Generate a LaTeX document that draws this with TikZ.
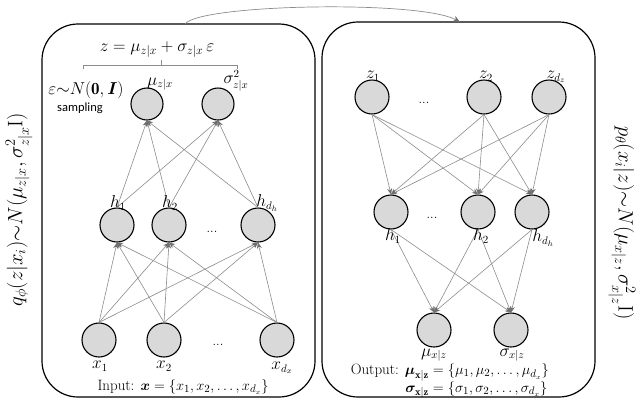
\documentclass[tikz,border=0pt]{standalone}
\usepackage{amsmath}
\usepackage{bm}
\usepackage{fontspec}
\newfontfamily\sampfont{Carlito}
\usetikzlibrary{arrows.meta}
\definecolor{nodefill}{RGB}{217,217,217}
\definecolor{edgegray}{RGB}{140,140,140}
\definecolor{tipgray}{RGB}{110,110,110}
\begin{document}
\begin{tikzpicture}[x=1pt,y=-1pt,
  neuron/.style={circle,draw=black,line width=1.1pt,fill=nodefill,minimum size=34pt,inner sep=0pt},
  conn/.style={draw=edgegray,line width=0.6pt,-{Stealth[length=6pt,width=5pt,color=tipgray]}},
  lbl/.style={font=\fontsize{16}{16}\selectfont,inner sep=0pt},
  dots/.style={font=\fontsize{13}{13}\selectfont,inner sep=0pt},
  box/.style={draw=black,line width=1.2pt,rounded corners=36pt,inner sep=0pt},
  side/.style={font=\fontsize{21}{21}\selectfont,inner sep=0pt}]
\useasboundingbox (0,0) rectangle (640,400);
% boxes
\node[box,minimum width=273pt,minimum height=373pt] (enc) at (178.5,210.5) {};
\node[box,minimum width=273pt,minimum height=375pt] (dec) at (458.5,209.5) {};
% curved arrow
\coordinate (cs) at (185,24);
\coordinate (ce) at (460,22);
\draw[draw=edgegray,line width=0.7pt,-{Stealth[length=7pt,width=6pt,color=tipgray]}] (cs) .. controls (200,4) and (420,0) .. (ce);
% encoder nodes
\node[neuron,minimum size=32pt] (mu) at (147,104) {};
\node[neuron,minimum size=32pt] (sg) at (218,104) {};
\node[neuron] (h1) at (117,225) {};
\node[neuron] (h2) at (169,225) {};
\node[neuron] (hd) at (258,225) {};
\node[neuron] (x1) at (99,340) {};
\node[neuron] (x2) at (164,340) {};
\node[neuron] (xd) at (277,340) {};
\foreach \s in {x1,x2,xd}{\foreach \t in {h1,h2,hd}{\draw[conn] (\s.north) -- (\t.south);}}
\foreach \s in {h1,h2,hd}{\foreach \t in {mu,sg}{\draw[conn] (\s.north) -- (\t.south);}}
% decoder nodes
\node[neuron] (z1) at (372,97) {};
\node[neuron] (z2) at (484,97) {};
\node[neuron] (zd) at (549,97) {};
\node[neuron] (rh1) at (391,212) {};
\node[neuron] (rh2) at (478,212) {};
\node[neuron] (rhd) at (532,212) {};
\node[neuron] (omu) at (434,330) {};
\node[neuron] (osg) at (511,330) {};
\foreach \s in {z1,z2,zd}{\foreach \t in {rh1,rh2,rhd}{\draw[conn] (\s.south) -- (\t.north);}}
\foreach \s in {rh1,rh2,rhd}{\foreach \t in {omu,osg}{\draw[conn] (\s.south) -- (\t.north);}}
% encoder labels
\node[lbl] (lmu) at (160,84) {$\mu_{z|x}$};
\node[lbl] (lsg) at (236,81) {$\sigma^2_{z|x}$};
\node[lbl] (lh1) at (118,203) {$h_1$};
\node[lbl] (lh2) at (170,203) {$h_2$};
\node[lbl] (lhd) at (267,203) {$h_{d_h}$};
\node[lbl] (lx1) at (100,366) {$x_1$};
\node[lbl] (lx2) at (164,366) {$x_2$};
\node[lbl] (lxd) at (282,368) {$x_{d_x}$};
\node[dots] (d1) at (212,232) {...};
\node[dots] (d2) at (218,345) {...};
\node[font=\fontsize{15}{15}\selectfont,inner sep=0pt] (inp) at (183,387) {Input: $\boldsymbol{x}=\{x_1,x_2,\dots,x_{d_x}\}$};
\node[font=\fontsize{18}{18}\selectfont,inner sep=0pt] (zeq) at (157,50) {$z=\mu_{z|x}+\sigma_{z|x}\,\varepsilon$};
\draw[edgegray,line width=0.7pt] (83,69) -- (83,65) -- (237,65) -- (237,69);
\draw[edgegray,line width=0.7pt] (161,65) -- (161,60);
\node[font=\fontsize{17}{17}\selectfont,inner sep=0pt] (eps) at (86,90) {$\varepsilon{\sim}N(\mathbf{0},\boldsymbol{I})$};
\node[font=\sampfont\fontsize{12.5}{12.5}\selectfont,inner sep=0pt] (samp) at (80,108) {sampling};
% decoder labels
\node[lbl] (lz1) at (373,76) {$z_1$};
\node[lbl] (lz2) at (486,76) {$z_2$};
\node[lbl] (lzd) at (556,77) {$z_{d_z}$};
\node[dots] (d3) at (424,103) {...};
\node[lbl] (lrh1) at (393,236) {$h_1$};
\node[lbl] (lrh2) at (481,236) {$h_2$};
\node[lbl] (lrhd) at (543,238) {$h_{d_h}$};
\node[dots] (d4) at (432,218) {...};
\node[lbl] (lomu) at (434,355) {$\mu_{x|z}$};
\node[lbl] (losg) at (512,355) {$\sigma_{x|z}$};
\node[font=\fontsize{15}{16.5}\selectfont,inner sep=0pt,anchor=north east] (outp) at (549,363) {\begin{tabular}{@{}r@{}l@{}}
Output: $\boldsymbol{\mu}_{\mathbf{x|z}}$ & ${}=\{\mu_1,\mu_2,\dots,\mu_{d_x}\}$\\
$\boldsymbol{\sigma}_{\mathbf{x|z}}$ & ${}=\{\sigma_1,\sigma_2,\dots,\sigma_{d_x}\}$
\end{tabular}};
% side labels
\node[side,rotate=90] (qlab) at (19,210) {$q_\phi(z|x_i){\sim}N(\mu_{z|x},\sigma^2_{z|x}\mathrm{I})$};
\node[side,rotate=-90] (plab) at (622,223) {$p_\theta(x_i|z){\sim}N(\mu_{x|z},\sigma^2_{x|z}\mathrm{I})$};
\end{tikzpicture}
\end{document}
